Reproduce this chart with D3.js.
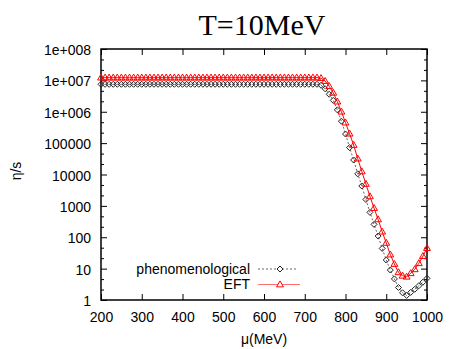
<!DOCTYPE html>
<html>
<head>
<meta charset="utf-8">
<script src="https://cdn.jsdelivr.net/npm/d3@7"></script>
<style>
  html, body { margin: 0; padding: 0; background: #fff; }
  svg { display: block; }
  text { font-family: "Liberation Sans", Arial, sans-serif; }
  text.title { font-family: "Liberation Serif", "Times New Roman", serif; }
</style>
</head>
<body>
<svg id="chart" width="452" height="349"></svg>
<script>
// ---- data ----
const mu = [200,210,220,230,240,250,260,270,280,290,300,310,320,330,340,350,360,370,380,390,
  400,410,420,430,440,450,460,470,480,490,500,510,520,530,540,550,560,570,580,590,
  600,610,620,630,640,650,660,670,680,690,700,710,720,730,740,750,760,770,780,790,
  800,810,820,830,840,850,860,870,880,890,900,910,920,930,940,950,960,970,980,990,1000];

const phenomenological = [
  7.5e6,7.5e6,7.5e6,7.5e6,7.5e6,7.5e6,7.5e6,7.5e6,7.5e6,7.5e6,
  7.5e6,7.5e6,7.5e6,7.5e6,7.5e6,7.5e6,7.5e6,7.5e6,7.5e6,7.5e6,
  7.5e6,7.5e6,7.5e6,7.5e6,7.5e6,7.5e6,7.5e6,7.5e6,7.5e6,7.5e6,
  7.5e6,7.5e6,7.5e6,7.5e6,7.5e6,7.5e6,7.5e6,7.5e6,7.5e6,7.5e6,
  7.5e6,7.5e6,7.5e6,7.5e6,7.5e6,7.5e6,7.5e6,7.5e6,7.5e6,7.5e6,
  7.5e6,7.5e6,7.5e6,7.5e6,
  7.0e6,5.4e6,3.6e6,2.3e6,1.15e6,5.0e5,1.95e5,7.2e4,2.9e4,1.05e4,
  4.3e3,1.6e3,620,257,109,44,18.8,9.0,4.7,2.5,
  1.7,1.4,1.75,2.2,2.85,3.7,4.9];

const EFT = [
  1.22e7,1.22e7,1.22e7,1.22e7,1.22e7,1.22e7,1.22e7,1.22e7,1.22e7,1.22e7,
  1.22e7,1.22e7,1.22e7,1.22e7,1.22e7,1.22e7,1.22e7,1.22e7,1.22e7,1.22e7,
  1.22e7,1.22e7,1.22e7,1.22e7,1.22e7,1.22e7,1.22e7,1.22e7,1.22e7,1.22e7,
  1.22e7,1.22e7,1.22e7,1.22e7,1.22e7,1.22e7,1.22e7,1.22e7,1.22e7,1.22e7,
  1.22e7,1.22e7,1.22e7,1.22e7,1.22e7,1.22e7,1.22e7,1.22e7,1.22e7,1.22e7,
  1.22e7,1.22e7,1.22e7,1.22e7,
  1.17e7,9.5e6,6.5e6,4.0e6,2.1e6,1.0e6,4.5e5,2.0e5,8.7e4,3.2e4,
  1.25e4,5.0e3,2.0e3,850,370,150,66,28,14,7.6,
  5.9,5.5,7.1,9.5,14.8,25,45];

const xTicks = [200,300,400,500,600,700,800,900,1000];
const yTicks = [1,10,100,1000,10000,100000,1e6,1e7,1e8];
const yTickLabels = ["1","10","100","1000","10000","100000","1e+006","1e+007","1e+008"];
const seriesNames = ["phenomenological","EFT"];
const titleText = "T=10MeV";
const xLabel = "\u03bc(MeV)";
const yLabel = "\u03b7/s";

// ---- layout ----
const svg = d3.select("#chart");
const L = 101, R = 427, T = 49, B = 300;

const x = d3.scaleLinear().domain([200,1000]).range([L,R]);
const y = d3.scaleLog().domain([1,1e8]).range([B,T]);

// minor ticks: two per decade (log-thirds)
const yMinor = [];
for (let e = 0; e < 8; e++) {
  yMinor.push(Math.pow(10, e + 1/3), Math.pow(10, e + 2/3));
}

// axes
const fmtY = v => yTickLabels[yTicks.indexOf(v)];

const gl = svg.append("g").attr("transform", `translate(${L},0)`)
  .call(d3.axisLeft(y).tickValues(yTicks).tickFormat(fmtY).tickSize(-6).tickPadding(10));
gl.selectAll("text").attr("dy","0.4em");
svg.append("g").attr("transform", `translate(${L},0)`)
  .call(d3.axisLeft(y).tickValues(yMinor).tickFormat("").tickSize(-3));

svg.append("g").attr("transform", `translate(${R},0)`)
  .call(d3.axisRight(y).tickValues(yTicks).tickFormat("").tickSize(-6));
svg.append("g").attr("transform", `translate(${R},0)`)
  .call(d3.axisRight(y).tickValues(yMinor).tickFormat("").tickSize(-3));

const gb = svg.append("g").attr("transform", `translate(0,${B})`)
  .call(d3.axisBottom(x).tickValues(xTicks).tickFormat(d => String(d)).tickSize(-6).tickPadding(12));
svg.append("g").attr("transform", `translate(0,${T})`)
  .call(d3.axisTop(x).tickValues(xTicks).tickFormat("").tickSize(-6));

svg.selectAll(".domain").remove();
svg.selectAll(".tick line").attr("stroke","#000").attr("stroke-width",1);
svg.selectAll(".tick text").attr("font-size",14).attr("fill","#000");

// frame
svg.append("rect").attr("x",L).attr("y",T).attr("width",R-L).attr("height",B-T)
  .attr("fill","none").attr("stroke","#000").attr("stroke-width",1.5);

// symbols
const diamond = r => `M0,${-r}L${r},0L0,${r}L${-r},0Z`;
const triangle = r => `M0,${-r}L${r*0.95},${r*0.65}L${-r*0.95},${r*0.65}Z`;

const ptsP = mu.map((m,i)=>[m, phenomenological[i]]);
const ptsE = mu.map((m,i)=>[m, EFT[i]]);
const line = d3.line().x(d=>x(d[0])).y(d=>y(d[1]));

// phenomenological
svg.append("path").attr("d", line(ptsP)).attr("fill","none")
  .attr("stroke","#666").attr("stroke-width",1).attr("stroke-dasharray","2,2");
svg.append("g").selectAll("path").data(ptsP).join("path")
  .attr("transform", d=>`translate(${x(d[0])},${y(d[1])})`)
  .attr("d", diamond(3)).attr("fill","none").attr("stroke","#222").attr("stroke-width",1);

// EFT
svg.append("path").attr("d", line(ptsE)).attr("fill","none")
  .attr("stroke","#ff0000").attr("stroke-width",1);
svg.append("g").selectAll("path").data(ptsE).join("path")
  .attr("transform", d=>`translate(${x(d[0])},${y(d[1])})`)
  .attr("d", triangle(3.6)).attr("fill","none").attr("stroke","#ff0000").attr("stroke-width",1);

// legend
const lg = svg.append("g");
lg.append("text").attr("x",250).attr("y",274).attr("text-anchor","end")
  .attr("font-size",14).text(seriesNames[0]);
lg.append("line").attr("x1",258).attr("x2",297).attr("y1",269).attr("y2",269)
  .attr("stroke","#666").attr("stroke-dasharray","2,2");
lg.append("path").attr("transform","translate(280,269)").attr("d",diamond(3))
  .attr("fill","#fff").attr("stroke","#222");
lg.append("text").attr("x",250).attr("y",289).attr("text-anchor","end")
  .attr("font-size",14).text(seriesNames[1]);
lg.append("line").attr("x1",258).attr("x2",300).attr("y1",284.5).attr("y2",284.5)
  .attr("stroke","#ff7070").attr("stroke-width",1.2);
lg.append("path").attr("transform","translate(280,284.5)").attr("d",triangle(3.6))
  .attr("fill","#fff").attr("stroke","#ff0000");

// title and labels
svg.append("text").attr("class","title").attr("x",262).attr("y",35).attr("text-anchor","middle")
  .attr("font-size",30).attr("fill","#000").text(titleText);
svg.append("text").attr("x",264).attr("y",344).attr("text-anchor","middle")
  .attr("font-size",14).text(xLabel);
svg.append("text").attr("transform","translate(21,171) rotate(-90)")
  .attr("text-anchor","middle").attr("font-size",14).text(yLabel);
</script>
</body>
</html>
